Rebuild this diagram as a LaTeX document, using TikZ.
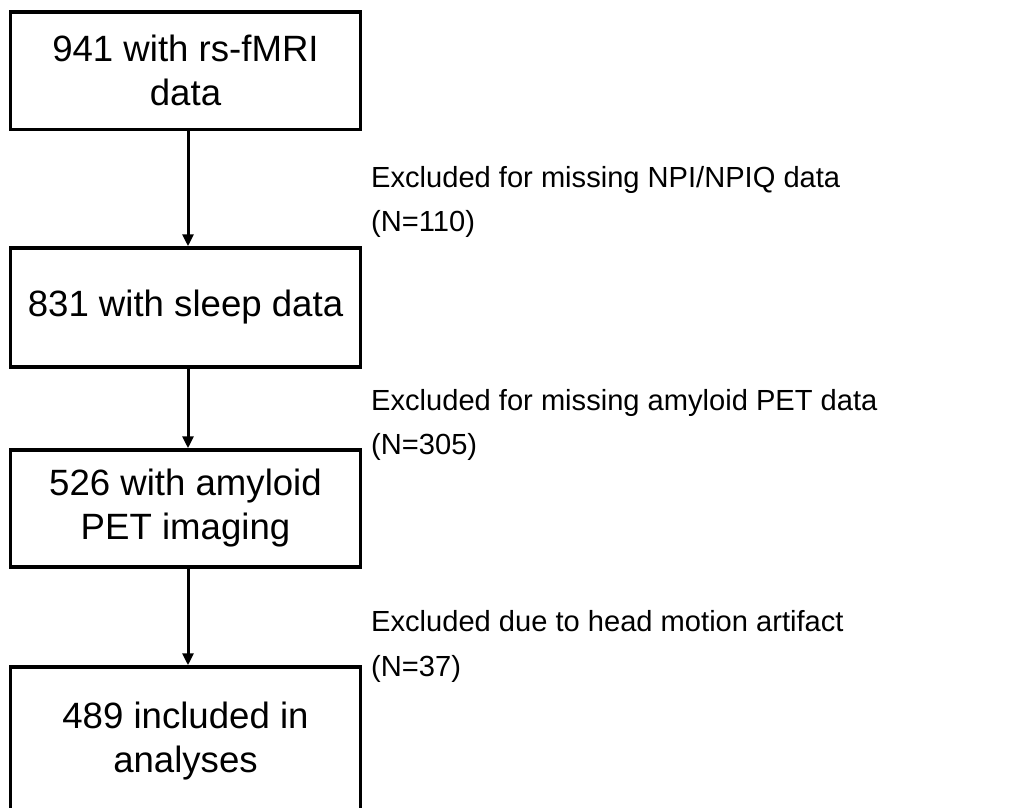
\documentclass[tikz,border=0pt]{standalone}
\usepackage{fontspec}
\setmainfont{Liberation Sans}
\usetikzlibrary{arrows.meta}
\begin{document}
\begin{tikzpicture}[x=1pt,y=-1pt,
  stepbox/.style={draw=black, line width=3.5pt, minimum width=350pt, inner sep=0pt, align=center, font=\fontsize{36.6}{44}\selectfont},
  flow/.style={line width=3pt, -{Triangle[width=11pt,length=12pt]}},
  note/.style={anchor=base west, align=left, inner sep=0pt, font=\fontsize{29.1}{44.5}\selectfont}]
\useasboundingbox (0,0) rectangle (1023,808);
\clip (0,0) rectangle (1023,808);
\node[stepbox, minimum height=117.5pt] (b1) at (185.5,70.75) {941 with rs-fMRI\\data};
\node[stepbox, minimum height=119pt] (b2) at (185.5,307.5) {831 with sleep data};
\node[stepbox, minimum height=117pt] (b3) at (185.5,508.5) {526 with amyloid\\PET imaging};
\node[stepbox, minimum height=148pt] (b4) at (185.5,741) {489 included in\\analyses};
\draw[flow] ([xshift=2.5pt]b1.south) -- ([xshift=2.5pt]b2.north);
\draw[flow] ([xshift=2.5pt]b2.south) -- ([xshift=2.5pt]b3.north);
\draw[flow] ([xshift=2.5pt]b3.south) -- ([xshift=2.5pt]b4.north);
\node[note] (l1) at (371,231.8) {Excluded for missing NPI/NPIQ data\\(N=110)};
\node[note] (l2) at (371,454.5) {Excluded for missing amyloid PET data\\(N=305)};
\node[note] (l3) at (371,676.2) {Excluded due to head motion artifact\\(N=37)};
\end{tikzpicture}
\end{document}
